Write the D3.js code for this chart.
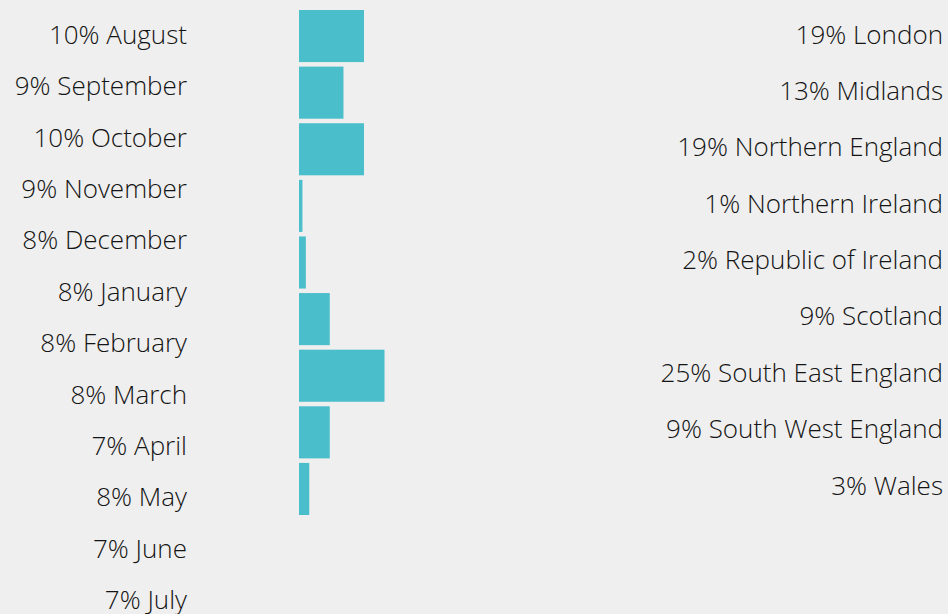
<!DOCTYPE html>
<html><head><meta charset="utf-8">
<script src="https://cdn.jsdelivr.net/npm/d3@7"></script>
<style>
html,body{margin:0;padding:0;background:#efefef;}
svg{display:block;}
text{font-family:"Open Sans","Noto Sans",sans-serif;font-weight:300;fill:#141414;}
</style></head>
<body>
<script>
const months = ["August","September","October","November","December","January","February","March","April","May","June","July"];
const monthPct = [10,9,10,9,8,8,8,8,7,8,7,7];
const regions = ["London","Midlands","Northern England","Northern Ireland","Republic of Ireland","Scotland","South East England","South West England","Wales"];
const regionPct = [19,13,19,1,2,9,25,9,3];

const W = 948, H = 614;
const svg = d3.select("body").append("svg").attr("width", W).attr("height", H);
svg.append("rect").attr("width", W).attr("height", H).attr("fill", "#efefef");

const yMonth = d3.scalePoint().domain(months).range([34, 599]);
const yBar = d3.scaleBand().domain(regions).range([10, 515]).paddingInner(0.08).paddingOuter(0);
const yRegion = d3.scalePoint().domain(regions).range([33.5, 484.5]);
const x = d3.scaleLinear().domain([0, 25]).range([299, 384.5]);

svg.append("g").selectAll("text").data(months).join("text")
  .attr("x", 187).attr("y", d => yMonth(d))
  .attr("text-anchor", "end").attr("dominant-baseline", "central")
  .style("font-size", "26px")
  .text((d, i) => monthPct[i] + "% " + d);

svg.append("g").selectAll("rect").data(regions).join("rect")
  .attr("x", x(0)).attr("y", d => yBar(d))
  .attr("width", (d, i) => x(regionPct[i]) - x(0))
  .attr("height", yBar.bandwidth())
  .attr("fill", "#4abeca");

svg.append("g").selectAll("text").data(regions).join("text")
  .attr("x", 943).attr("y", d => yRegion(d))
  .attr("text-anchor", "end").attr("dominant-baseline", "central")
  .style("font-size", "26px")
  .text((d, i) => regionPct[i] + "% " + d);
</script>
</body></html>
